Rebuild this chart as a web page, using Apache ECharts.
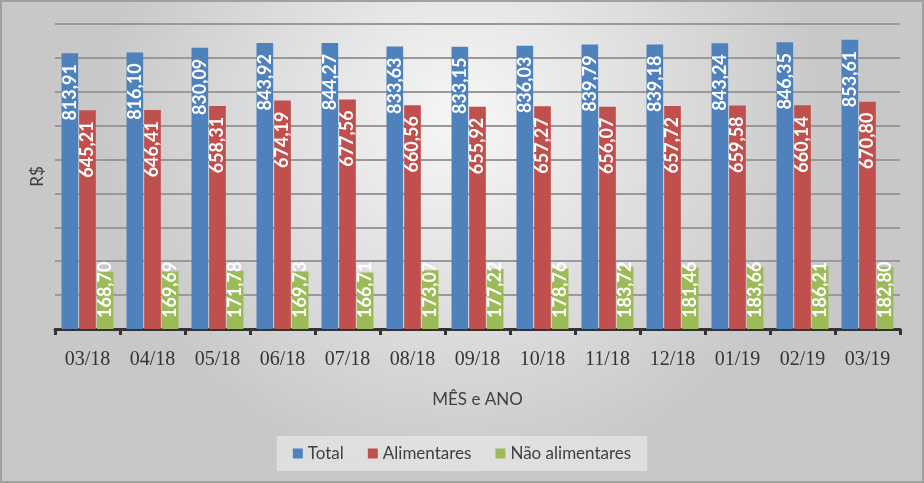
<!DOCTYPE html>
<html><head><meta charset="utf-8">
<style>html,body{margin:0;padding:0;}#c{width:924px;height:483px;}</style>
<script src="https://cdn.jsdelivr.net/npm/echarts@6/dist/echarts.min.js"></script>
</head><body><div id="c"></div>
<script>
const categories = ['03/18','04/18','05/18','06/18','07/18','08/18','09/18','10/18','11/18','12/18','01/19','02/19','03/19'];
const total = [813.91,816.10,830.09,843.92,844.27,833.63,833.15,836.03,839.79,839.18,843.24,846.35,853.61];
const alimentares = [645.21,646.41,658.31,674.19,677.56,660.56,655.92,657.27,656.07,657.72,659.58,660.14,670.80];
const naoAlimentares = [168.70,169.69,171.78,169.73,166.71,173.07,177.22,178.76,183.72,181.46,183.66,186.21,182.80];

const fmt = p => p.value.toFixed(2).replace('.', ',');
const labelTop = {show:true, position:'insideTop', distance:11, rotate:90, align:'right', verticalAlign:'middle',
  color:'#fff', fontFamily:'Lato', fontWeight:'bold', fontSize:18, formatter:fmt};
const labelBottom = {show:true, position:'insideBottom', distance:11, rotate:90, align:'left', verticalAlign:'middle',
  color:'#fff', fontFamily:'Lato', fontWeight:'bold', fontSize:18, formatter:fmt};

const chart = echarts.init(document.getElementById('c'));
chart.setOption({
  animation:false,
  backgroundColor:{type:'radial', x:0.5, y:0.25, r:0.75, colorStops:[{offset:0,color:'#f7f7f7'},{offset:1,color:'#c8c8c8'}]},
  graphic:[{type:'rect', shape:{x:1,y:1,width:922,height:481}, style:{fill:'none', stroke:'#a0a0a0', lineWidth:2}, silent:true}],
  grid:{left:55, right:24, top:24, bottom:154},
  legend:{bottom:12, left:'center', itemWidth:10, itemHeight:10, itemGap:24, icon:'rect',
    backgroundColor:'rgba(240,240,240,0.55)', padding:[9,16,9,16],
    textStyle:{fontFamily:'Lato', fontSize:17, color:'#404040'}, data:['Total','Alimentares','Não alimentares']},
  xAxis:{type:'category', data:categories,
    name:'MÊS e ANO', nameLocation:'middle', nameGap:62,
    nameTextStyle:{fontFamily:'Lato', fontSize:17, color:'#404040'},
    axisLine:{lineStyle:{color:'#333', width:3}},
    axisTick:{show:true, length:6, lineStyle:{color:'#333', width:3}},
    axisLabel:{fontFamily:'Liberation Serif', fontSize:20, color:'#333', margin:21}},
  yAxis:{type:'value', min:0, max:900, interval:100,
    name:'R$', nameLocation:'middle', nameGap:9, nameRotate:90,
    nameTextStyle:{fontFamily:'Lato', fontSize:17, color:'#404040'},
    axisLabel:{show:false}, axisLine:{show:false}, axisTick:{show:false},
    splitLine:{lineStyle:{color:'#999', width:2}}},
  series:[
    {name:'Total', type:'bar', data:total, barCategoryGap:'20%', barGap:'6%', itemStyle:{color:'#4F81BD'}, label:labelTop},
    {name:'Alimentares', type:'bar', data:alimentares, itemStyle:{color:'#C0504D'}, label:labelTop},
    {name:'Não alimentares', type:'bar', data:naoAlimentares, itemStyle:{color:'#9BBB59'}, label:labelBottom}
  ]
});
</script></body></html>
